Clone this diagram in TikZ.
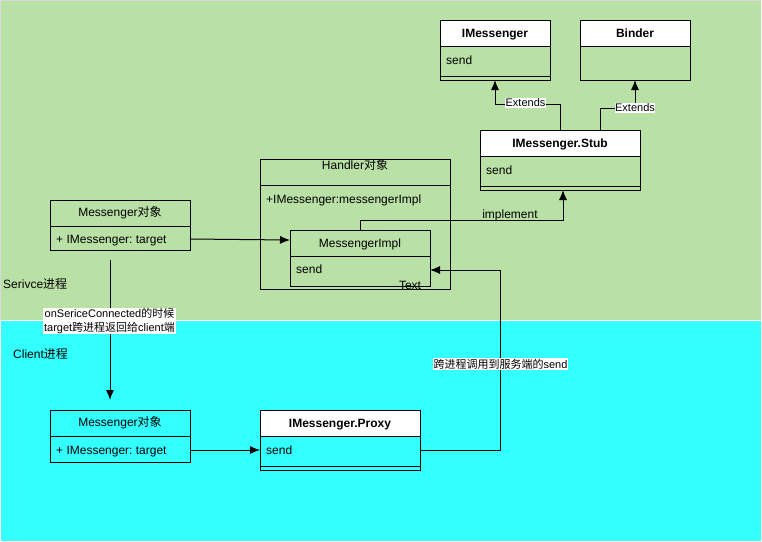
\documentclass[tikz,border=0pt]{standalone}
\usepackage{fontspec}
\setmainfont{Liberation Sans}
\newfontfamily\cjk{Noto Sans CJK SC}
\usetikzlibrary{arrows.meta}
\definecolor{bggreen}{HTML}{B9E0A5}
\definecolor{bgcyan}{HTML}{33FFFF}
\frenchspacing
\tikzset{
  fs/.style={font=\fontsize{12pt}{14pt}\selectfont, text height=8.6pt, text depth=0pt},
  fss/.style={font=\fontsize{11pt}{12.5pt}\selectfont},
  boxc/.style={draw, line width=1pt, inner sep=0pt, outer sep=0pt, anchor=north west},
  hdr/.style={boxc, fill=white, fs},
  txt/.style={fs, inner sep=0pt, anchor=west},
  lbl/.style={fss, fill=white, inner sep=0.6pt, align=center},
  conn/.style={line width=1pt},
  arr/.style={line width=1pt, -{Latex[length=10pt,width=8pt]}},
}
\begin{document}
\begin{tikzpicture}[x=1pt,y=-1pt]
\useasboundingbox (0,0) rectangle (762,541);
% backgrounds
\fill[bggreen] (0.5,0.5) rectangle (760.5,320);
\fill[bgcyan] (0.5,321) rectangle (760.5,540.5);
\draw[white, line width=1pt] (0.5,320.5) -- (760.5,320.5);
\draw[black!15, line width=0.6pt] (0.5,320) -- (0.5,0.5) -- (760.5,0.5);

% IMessenger
\node[boxc, minimum width=110, minimum height=60] (imsg) at (440,20) {};
\node[hdr, minimum width=110, minimum height=26] (imsgH) at (440,20) {\bfseries IMessenger};
\node[txt] (imsgS) at (446,60) {send};
\draw[line width=1pt] (imsg.west |- 0,76) -- (imsg.east |- 0,76);

% Binder
\node[boxc, minimum width=110, minimum height=60] (binder) at (580,20) {};
\node[hdr, minimum width=110, minimum height=26] (binderH) at (580,20) {\bfseries Binder};

% IMessenger.Stub
\node[boxc, minimum width=160, minimum height=60] (stub) at (480,130) {};
\node[hdr, minimum width=160, minimum height=26] (stubH) at (480,130) {\bfseries IMessenger.Stub};
\node[txt] (stubS) at (486,170) {send};
\draw[line width=1pt] (stub.west |- 0,186) -- (stub.east |- 0,186);

% Extends connectors
\coordinate (e1a) at (560,130);
\coordinate (e1b) at (560,104);
\coordinate (e1c) at (495,104);
\coordinate (e1d) at (495,80);
\draw[arr] (e1a) -- (e1b) -- (e1c) -- (e1d);
\node[lbl] (ext1) at (525.5,103) {Extends};
\coordinate (e2a) at (600,130);
\coordinate (e2b) at (600,108);
\coordinate (e2c) at (635,108);
\coordinate (e2d) at (635,80);
\draw[arr] (e2a) -- (e2b) -- (e2c) -- (e2d);
\node[lbl] (ext2) at (635,108) {Extends};

% Handler
\node[boxc, minimum width=190, minimum height=130] (handler) at (260,159) {};
\draw[line width=1pt] (handler.west |- 0,185) -- (handler.east |- 0,185);
\node[fs, inner sep=0pt] (handlerT) at (355,165) {Handler{\cjk 对象}};
\node[txt] (handlerA) at (266,199) {+IMessenger:messengerImpl};
\node[fs, inner sep=0pt] (textT) at (410,285) {Text};

% MessengerImpl
\node[boxc, minimum width=140, minimum height=56] (mi) at (290,230) {};
\draw[line width=1pt] (mi.west |- 0,256) -- (mi.east |- 0,256);
\node[fs, inner sep=0pt] (miT) at (360,243) {MessengerImpl};
\node[txt] (miS) at (296,269) {send};

% implement
\coordinate (i1) at (360,230);
\coordinate (i2) at (360,220);
\coordinate (i3) at (563,220);
\coordinate (i4) at (563,190);
\draw[arr] (i1) -- (i2) -- (i3) -- (i4);
\node[fs, inner sep=0pt] (implT) at (510,214) {implement};

% Server Messenger
\node[boxc, minimum width=140, minimum height=50] (ms) at (50,200) {};
\draw[line width=1pt] (ms.west |- 0,226) -- (ms.east |- 0,226);
\node[fs, inner sep=0pt] (msT) at (120,212.5) {Messenger{\cjk 对象}};
\node[txt] (msA) at (56,239) {+ IMessenger: target};
\coordinate (msE) at (190,239);
\coordinate (miW) at (290,240);
\draw[arr] (msE) -- (miW);

% process labels
\node[txt] (svc) at (3,284.5) {Serivce{\cjk 进程}};
\node[txt] (cli) at (13,354) {Client{\cjk 进程}};

% vertical return
\coordinate (v1) at (110,260);
\coordinate (v2) at (110,400);
\draw[arr] (v1) -- (v2);
\node[lbl, font=\fontsize{11pt}{14pt}\selectfont] (retL) at (109.5,321) {onSericeConnected{\cjk 的时候}\\target{\cjk 跨进程返回给}client{\cjk 端}};

% Client Messenger
\node[boxc, minimum width=140, minimum height=52] (mc) at (50,410) {};
\draw[line width=1pt] (mc.west |- 0,436) -- (mc.east |- 0,436);
\node[fs, inner sep=0pt] (mcT) at (120,422.5) {Messenger{\cjk 对象}};
\node[txt] (mcA) at (56,450) {+ IMessenger: target};

% Proxy
\node[boxc, minimum width=160, minimum height=60] (proxy) at (260,410) {};
\node[hdr, minimum width=160, minimum height=26] (proxyH) at (260,410) {\bfseries IMessenger.Proxy};
\node[txt] (proxyS) at (266,450) {send};
\draw[line width=1pt] (proxy.west |- 0,466) -- (proxy.east |- 0,466);

\coordinate (mcE) at (190,450);
\coordinate (pxW) at (260,450);
\draw[arr] (mcE) -- (pxW);

% cross-process call
\coordinate (p1) at (420,450);
\coordinate (p2) at (500,450);
\coordinate (p3) at (500,270);
\coordinate (p4) at (430,270);
\draw[arr] (p1) -- (p2) -- (p3) -- (p4);
\node[lbl] (callL) at (500.5,364) {{\cjk 跨进程调用到服务端的}send};
\end{tikzpicture}
\end{document}
